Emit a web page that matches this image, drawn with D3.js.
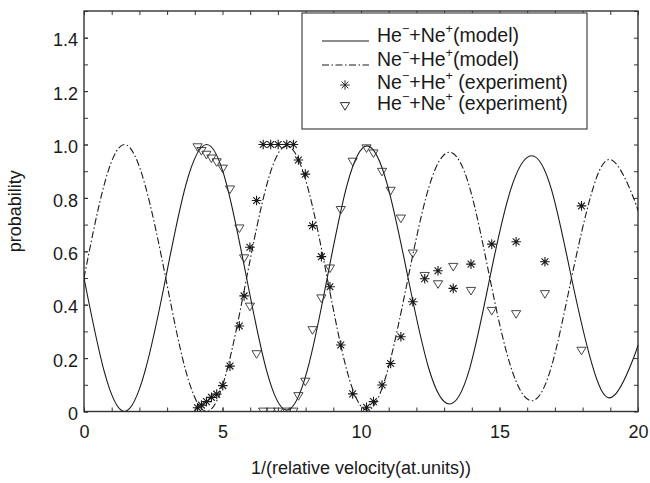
<!DOCTYPE html>
<html>
<head>
<meta charset="utf-8">
<script src="https://cdn.jsdelivr.net/npm/d3@7"></script>
<style>
  body { margin: 0; background: #fff; }
  svg { display: block; font-family: "Liberation Sans", Arial, sans-serif; }
</style>
</head>
<body>
<div id="chart"></div>
<script>
// model curves (x in 1/(relative velocity), y probability)
const MODEL_X = [0, 0.73, 1.46, 2.2, 2.95, 3.68, 4.43, 5.15, 5.87, 6.6, 7.32, 8.05, 8.78, 9.5,
  10.22, 10.95, 11.7, 12.45, 13.19, 13.92, 14.65, 15.4, 16.16, 16.88, 17.6, 18.33, 19.05, 19.8, 20];
const MODEL_HE = [0.5, 0.15, 0.0, 0.15, 0.5, 0.85, 1.0, 0.85, 0.5, 0.15, 0.005, 0.15, 0.5, 0.85,
  0.995, 0.85, 0.5, 0.16, 0.028, 0.16, 0.5, 0.83, 0.958, 0.83, 0.5, 0.18, 0.053, 0.19, 0.25];
const MODEL_NE = [0.5, 0.85, 1.0, 0.85, 0.5, 0.15, 0.0, 0.15, 0.5, 0.85, 0.995, 0.85, 0.5, 0.15,
  0.005, 0.15, 0.5, 0.84, 0.971, 0.84, 0.5, 0.17, 0.04, 0.17, 0.5, 0.82, 0.942, 0.81, 0.75];

// experiment points
const EXP_X = [4.1, 4.24, 4.42, 4.6, 4.79, 5.01, 5.27, 5.61, 5.78, 5.99, 6.23, 6.47, 6.74, 7.01,
  7.32, 7.56, 7.74, 7.99, 8.25, 8.57, 8.88, 9.27, 9.7, 10.2, 10.45, 10.76, 11.07, 11.44, 11.87,
  12.3, 12.78, 13.33, 13.97, 14.72, 15.6, 16.64, 17.96];
const EXP_NE = [0.014, 0.024, 0.037, 0.053, 0.065, 0.097, 0.17, 0.32, 0.433, 0.615, 0.79, 1.0, 1.0,
  1.0, 1.0, 1.0, 0.942, 0.889, 0.696, 0.58, 0.467, 0.249, 0.066, 0.016, 0.037, 0.099, 0.18, 0.28,
  0.411, 0.497, 0.527, 0.461, 0.552, 0.627, 0.636, 0.561, 0.77];
const EXP_HE = [0.99, 0.976, 0.962, 0.948, 0.934, 0.91, 0.832, 0.686, 0.574, 0.393, 0.215, 0, 0,
  0, 0, 0, 0.058, 0.112, 0.305, 0.424, 0.536, 0.755, 0.936, 0.986, 0.967, 0.898, 0.827, 0.723,
  0.592, 0.508, 0.477, 0.542, 0.452, 0.377, 0.365, 0.44, 0.228];

const X_TICKS = [0, 5, 10, 15, 20];
const Y_TICKS = [0, 0.2, 0.4, 0.6, 0.8, 1.0, 1.2, 1.4];

const LEGEND_ROWS = [
  { a: "He", b: "Ne", tail: "(model)", kind: "solid" },
  { a: "Ne", b: "He", tail: "(model)", kind: "dashdot" },
  { a: "Ne", b: "He", tail: " (experiment)", kind: "star" },
  { a: "He", b: "Ne", tail: " (experiment)", kind: "tri" }
];

const MARGIN = { TOP: 11, RIGHT: 12, BOTTOM: 71.5, LEFT: 84 };
const WIDTH = 650 - MARGIN.LEFT - MARGIN.RIGHT;
const HEIGHT = 483 - MARGIN.TOP - MARGIN.BOTTOM;
const INK = "#1a1a1a";
const DASHDOT = "7,2.5,1.5,2.5";

const SVG = d3.select("#chart").append("svg")
  .attr("width", 650)
  .attr("height", 483);

const CHART = SVG.append("g")
  .attr("transform", "translate(" + MARGIN.LEFT + "," + MARGIN.TOP + ")");

const X_SCALE = d3.scaleLinear().domain([0, 20]).range([0, WIDTH]);
const Y_SCALE = d3.scaleLinear().domain([0, 1.5]).range([HEIGHT, 0]);

SVG.append("defs").append("clipPath").attr("id", "plot-clip")
  .append("rect").attr("width", WIDTH).attr("height", HEIGHT);

// minor ticks on all four sides (inward)
const minorX = X_SCALE.ticks(20);
const minorY = Y_SCALE.ticks(15);
function tickOnly(axis, values) {
  return axis.tickValues(values).tickSize(-4).tickFormat("");
}
CHART.append("g").attr("class", "minor").attr("transform", "translate(0," + HEIGHT + ")")
  .call(tickOnly(d3.axisBottom(X_SCALE), minorX));
CHART.append("g").attr("class", "minor")
  .call(tickOnly(d3.axisTop(X_SCALE), minorX));
CHART.append("g").attr("class", "minor")
  .call(tickOnly(d3.axisLeft(Y_SCALE), minorY));
CHART.append("g").attr("class", "minor").attr("transform", "translate(" + WIDTH + ",0)")
  .call(tickOnly(d3.axisRight(Y_SCALE), minorY));

const X_AXIS = CHART.append("g").attr("class", "axis")
  .attr("transform", "translate(0," + HEIGHT + ")")
  .call(d3.axisBottom(X_SCALE).tickValues(X_TICKS).tickSize(-4).tickPadding(13.5)
    .tickFormat(d3.format("d")));
const Y_AXIS = CHART.append("g").attr("class", "axis")
  .call(d3.axisLeft(Y_SCALE).tickValues(Y_TICKS).tickSize(-4).tickPadding(6)
    .tickFormat((d) => (d === 0 ? "0" : d3.format(".1f")(d))));
Y_AXIS.selectAll("text").attr("dy", "0.46em");

CHART.selectAll(".axis, .minor").selectAll(".domain").remove();
CHART.selectAll(".axis text")
  .attr("fill", INK)
  .style("font-size", "18px");
CHART.selectAll(".tick line").attr("stroke", "#333").attr("stroke-width", 1);

// box
CHART.append("rect")
  .attr("width", WIDTH)
  .attr("height", HEIGHT)
  .attr("fill", "none")
  .attr("stroke", "#333")
  .attr("stroke-width", 1.4);

const PLOT = CHART.append("g").attr("clip-path", "url(#plot-clip)");

const lineGen = (ys) => d3.line()
  .x((d, i) => X_SCALE(MODEL_X[i]))
  .y((d) => Y_SCALE(d))
  .curve(d3.curveNatural)(ys);

PLOT.append("path")
  .attr("d", lineGen(MODEL_HE))
  .attr("fill", "none")
  .attr("stroke", INK)
  .attr("stroke-width", 1.1);

PLOT.append("path")
  .attr("d", lineGen(MODEL_NE))
  .attr("fill", "none")
  .attr("stroke", INK)
  .attr("stroke-width", 1.1)
  .attr("stroke-dasharray", DASHDOT);

const STAR_PATH = "M-4.8,0H4.8M0,-4.8V4.8M-3.4,-3.4L3.4,3.4M-3.4,3.4L3.4,-3.4";
const TRI_PATH = "M-4.6,-3.4H4.6L0,4.2Z";

PLOT.selectAll(".star")
  .data(EXP_NE)
  .enter()
  .append("path")
  .attr("class", "star")
  .attr("transform", (d, i) => "translate(" + X_SCALE(EXP_X[i]) + "," + Y_SCALE(d) + ")")
  .attr("d", STAR_PATH)
  .attr("stroke", INK)
  .attr("stroke-width", 1.1);

PLOT.selectAll(".tri")
  .data(EXP_HE)
  .enter()
  .append("path")
  .attr("class", "tri")
  .attr("transform", (d, i) => "translate(" + X_SCALE(EXP_X[i]) + "," + Y_SCALE(d) + ")")
  .attr("d", TRI_PATH)
  .attr("fill", "none")
  .attr("stroke", "#333")
  .attr("stroke-width", 0.9);

// axis titles
CHART.append("text")
  .attr("x", WIDTH / 2)
  .attr("y", HEIGHT + 62)
  .attr("text-anchor", "middle")
  .attr("fill", INK)
  .style("font-size", "18px")
  .text("1/(relative velocity(at.units))");

CHART.append("text")
  .attr("transform", "rotate(-90)")
  .attr("x", -HEIGHT / 2)
  .attr("y", -63)
  .attr("text-anchor", "middle")
  .attr("fill", INK)
  .style("font-size", "18px")
  .text("probability");

// legend
const LEGEND = SVG.append("g").attr("transform", "translate(302,13)");
LEGEND.append("rect")
  .attr("width", 285)
  .attr("height", 116)
  .attr("fill", "#fff")
  .attr("stroke", "#333")
  .attr("stroke-width", 1.1);

const ROW_Y = [29, 53, 76, 97];
LEGEND_ROWS.forEach((row, i) => {
  const y = ROW_Y[i];
  const g = LEGEND.append("g").attr("transform", "translate(0," + y + ")");
  if (row.kind === "solid" || row.kind === "dashdot") {
    g.append("line")
      .attr("x1", 20).attr("x2", 67)
      .attr("y1", -1).attr("y2", -1)
      .attr("stroke", INK)
      .attr("stroke-width", 1.1)
      .attr("stroke-dasharray", row.kind === "dashdot" ? DASHDOT : null);
  } else {
    g.append("path")
      .attr("transform", "translate(43,-4)")
      .attr("d", row.kind === "star" ? STAR_PATH : TRI_PATH)
      .attr("fill", "none")
      .attr("stroke", INK)
      .attr("stroke-width", 0.9);
  }
  const t = g.append("text")
    .attr("x", 75)
    .attr("fill", INK)
    .style("font-size", "19.5px");
  t.append("tspan").text(row.a);
  t.append("tspan").attr("dy", -9).style("font-size", "12.5px").text("\u2212");
  t.append("tspan").attr("dy", 9).text("+" + row.b);
  t.append("tspan").attr("dy", -9).style("font-size", "12.5px").text("+");
  t.append("tspan").attr("dy", 9).text(row.tail);
});
</script>
</body>
</html>
